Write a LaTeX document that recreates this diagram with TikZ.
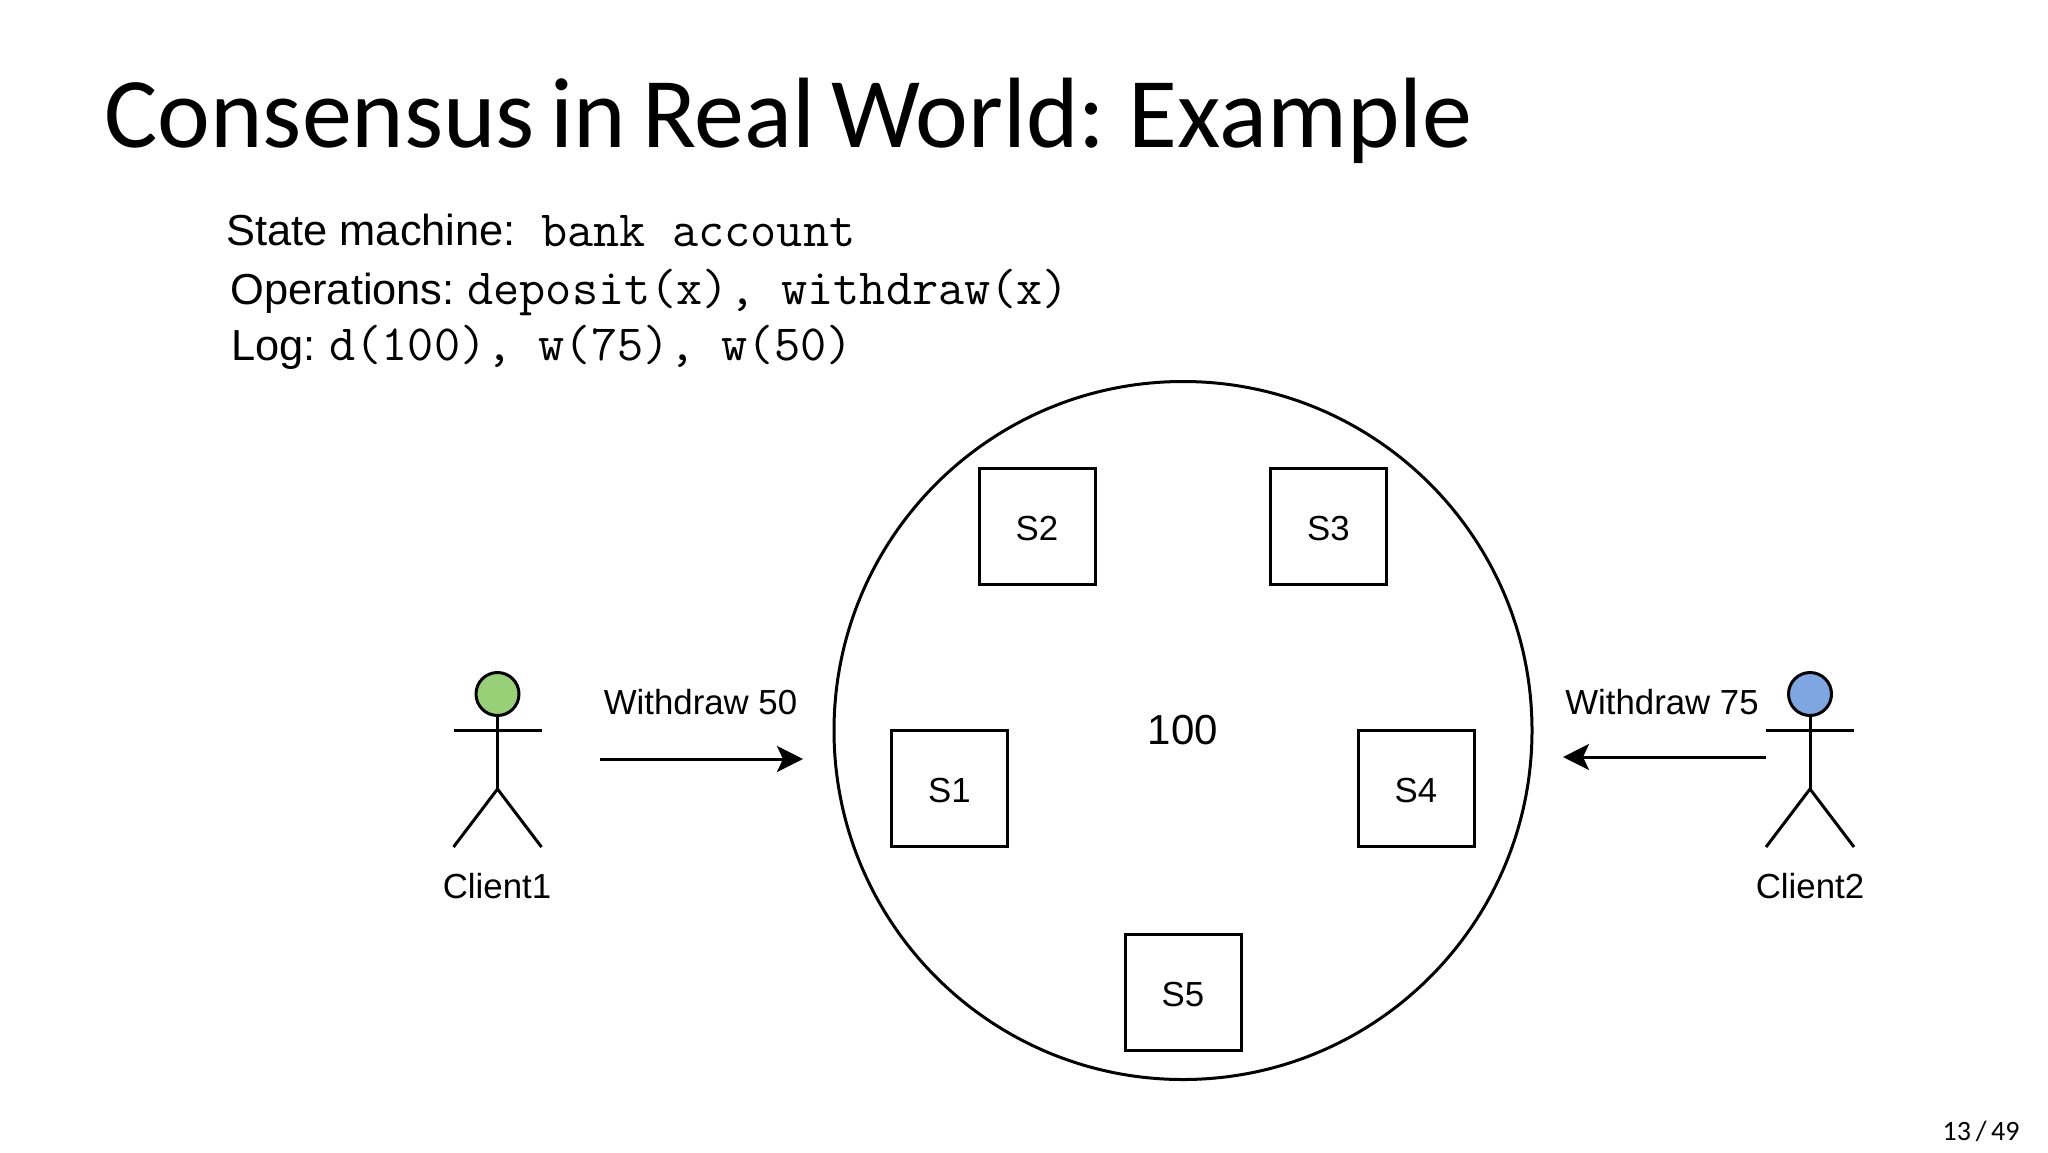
\documentclass[tikz,border=0pt]{standalone}
\usepackage{fontspec}
\setmainfont{Liberation Sans}
\newfontfamily\titlefont[WordSpace=0.7]{Carlito}
\usetikzlibrary{arrows.meta, positioning}
\definecolor{headgreen}{HTML}{97D077}
\definecolor{headblue}{HTML}{7EA6E0}

\begin{document}
\begin{tikzpicture}[
        x=0.5pt, y=-0.5pt,
        slide_title/.style={anchor=base west, inner sep=0pt, font=\titlefont\fontsize{50}{50}\selectfont},
        info_text/.style={anchor=base west, inner sep=0pt, font=\fontsize{21.7}{24}\selectfont},
        info_code/.style={anchor=base west, inner sep=0pt, font=\ttfamily\fontsize{25.4}{26}\selectfont},
        ring/.style={circle, draw, line width=1.5pt, minimum size=349pt, inner sep=0pt, font=\fontsize{21}{24}\selectfont},
        server/.style={rectangle, draw, line width=1.5pt, minimum size=58pt, inner sep=0pt, text height=14.5pt, font=\fontsize{17.4}{20}\selectfont},
        head/.style={circle, draw, line width=1.5pt, minimum size=21.5pt, inner sep=0pt},
        stick/.style={line width=1.5pt, black},
        caption/.style={inner sep=0pt, font=\fontsize{17.4}{20}\selectfont},
        request/.style={-{Stealth[length=13pt, width=13pt, inset=3pt]}, line width=1.5pt, black}
    ]

    \useasboundingbox (0,0) rectangle (2048,1152);

    % --- Title and description ---
    \node[slide_title] (title) at (104,147) {Consensus in Real World: Example};
    \node[info_text] (statelabel) at (226,245) {State machine:};
    \node[info_code] (statecode) at (541,246) {bank account};
    \node[info_text] (oplabel) at (230,304) {Operations:};
    \node[info_code] (opcode) at (467,304) {deposit(x), withdraw(x)};
    \node[info_text] (loglabel) at (231,360) {Log:};
    \node[info_code] (logcode) at (329,360) {d(100), w(75), w(50)};

    % --- Cluster ---
    \node[ring] (cluster) at (1183,730.5) {100};
    \node[server] (s1) at (949.5,788) {S1};
    \node[server] (s2) at (1037,526) {S2};
    \node[server] (s3) at (1328.5,526) {S3};
    \node[server] (s4) at (1416,788) {S4};
    \node[server] (s5) at (1183,992.5) {S5};

    % --- Clients ---
    \foreach \name/\xpos/\col in {client1/497.5/headgreen, client2/1810/headblue} {
        \node[head, fill=\col] (\name) at (\xpos,694) {};
        \coordinate (\name hip) at (\xpos,789);
        \draw[stick] (\name) -- (\name hip);
        \draw[stick] (\xpos-44,730) -- (\xpos+44,730);
        \draw[stick] (\xpos-44,847) -- (\name hip) -- (\xpos+44,847);
    }
    \node[caption, anchor=base] (label1) at (497,898) {Client1};
    \node[caption, anchor=base] (label2) at (1810,898) {Client2};

    % --- Requests ---
    \coordinate (from1) at (600,759);
    \coordinate (to1) at (803,759);
    \coordinate (from2) at (1766,757);
    \coordinate (to2) at (1563,757);
    \draw[request] (from1) -- (to1);
    \draw[request] (from2) -- (to2);
    \node[caption, anchor=base] (req1) at (700.5,714) {Withdraw 50};
    \node[caption, anchor=base] (req2) at (1662,714) {Withdraw 75};

    % --- Page number ---
    \node[anchor=base east, inner sep=0pt, font=\titlefont\fontsize{14}{14}\selectfont] (page) at (2020,1140) {13\,/\,49};

\end{tikzpicture}
\end{document}
